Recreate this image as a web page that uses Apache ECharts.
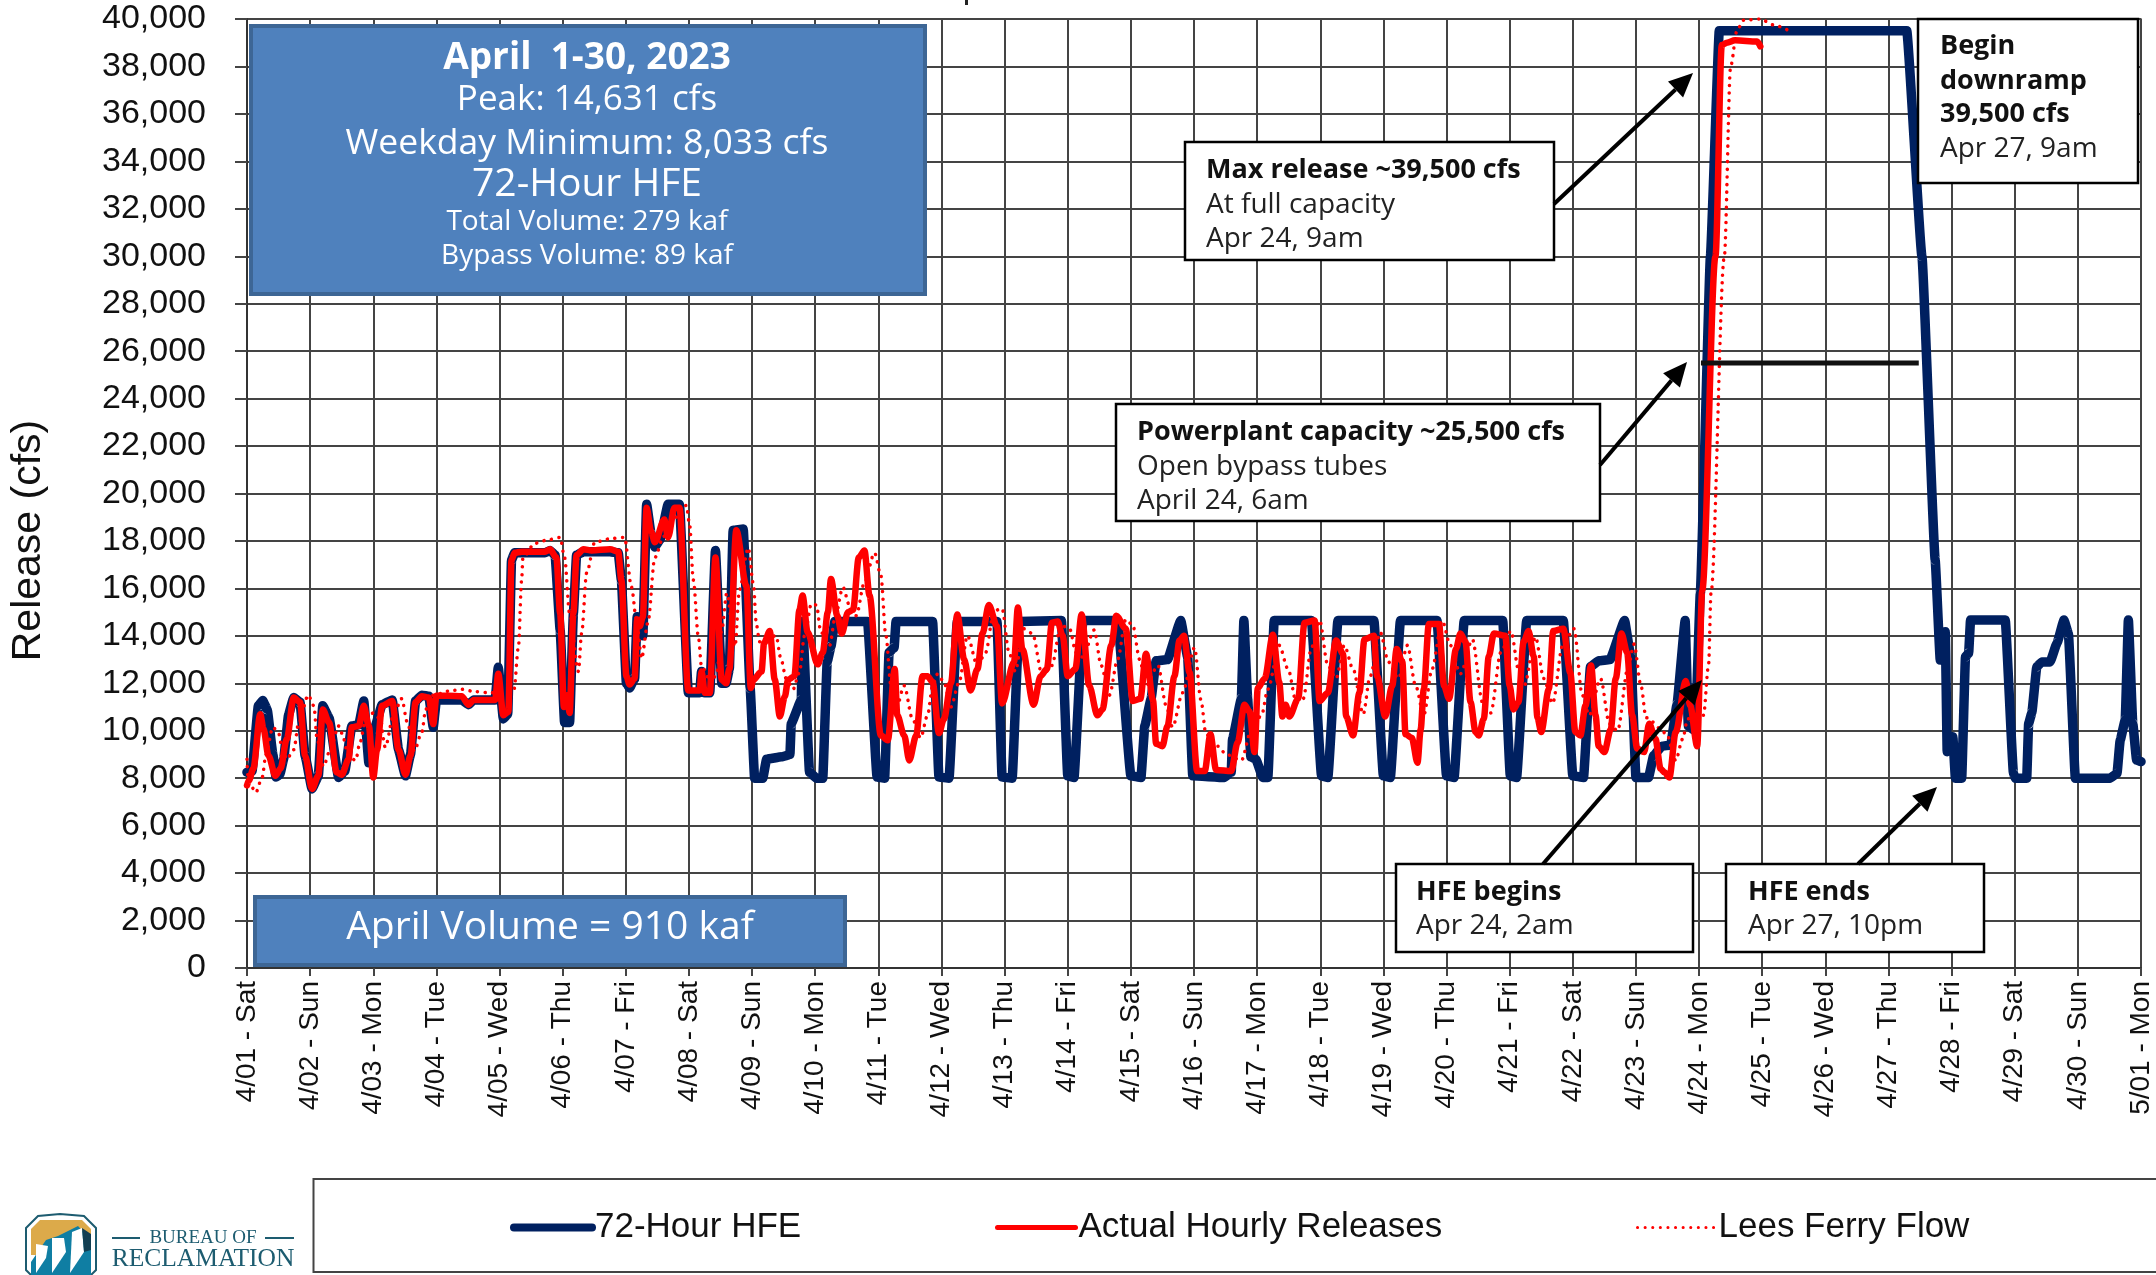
<!DOCTYPE html>
<html>
<head>
<meta charset="utf-8">
<title>April 2023 72-Hour HFE</title>
<style>
	html, body { margin: 0; padding: 0; background: #fff; }
	#chart { width: 2156px; height: 1275px; }
</style>
<script src="https://cdn.jsdelivr.net/npm/echarts@6/dist/echarts.min.js"></script>
</head>
<body>
<div id="chart"></div>
<script>
const dayLabels = [
	'4/01 - Sat', '4/02 - Sun', '4/03 - Mon', '4/04 - Tue', '4/05 - Wed', '4/06 - Thu',
	'4/07 - Fri', '4/08 - Sat', '4/09 - Sun', '4/10 - Mon', '4/11 - Tue', '4/12 - Wed',
	'4/13 - Thu', '4/14 - Fri', '4/15 - Sat', '4/16 - Sun', '4/17 - Mon', '4/18 - Tue',
	'4/19 - Wed', '4/20 - Thu', '4/21 - Fri', '4/22 - Sat', '4/23 - Sun', '4/24 - Mon',
	'4/25 - Tue', '4/26 - Wed', '4/27 - Thu', '4/28 - Fri', '4/29 - Sat', '4/30 - Sun', '5/01 - Mon'
];

// [ days since Apr 1, cfs ]
const hfeFlow = [
	[0,8250],[.08,8300],[.18,11050],[.25,11270],[.32,10900],[.41,9000],[.46,8050],[.52,8150],[.58,8800],[.66,10700],[.74,11400],[.84,11200],[.92,8950],
	[1.03,7550],[1.13,8100],[1.2,11050],[1.3,10550],[1.45,8030],[1.55,8300],[1.66,10200],[1.77,10250],[1.85,11250],[1.93,8650],
	[2.02,10100],[2.14,11100],[2.3,11300],[2.4,9200],[2.51,8100],[2.59,9000],[2.67,11250],[2.77,11500],[2.88,11450],[2.95,10150],
	[3,11300],[3.4,11300],[3.51,11100],[3.59,11300],[3.93,11300],[3.98,12680],[4.06,10500],[4.13,10700],[4.19,17200],[4.24,17500],
	[4.72,17500],[4.8,17600],[4.88,17400],[4.96,14250],[5.03,10350],[5.11,10350],[5.17,14950],[5.22,17400],[5.33,17550],[5.75,17550],[5.88,17500],
	[5.93,16350],[6.01,12000],[6.06,11800],[6.14,12200],[6.18,14800],[6.27,14000],[6.33,19550],[6.4,18300],[6.46,17750],[6.54,18050],
	[6.67,19550],[6.85,19550],[6.99,11600],[7.17,11600],[7.2,12500],[7.25,11600],[7.33,11600],[7.42,17600],[7.52,12000],[7.59,12000],
	[7.64,12600],[7.7,18450],[7.86,18500],[7.97,11800],[8.04,8000],[8.17,8000],[8.23,8800],[8.47,8900],[8.6,9000],[8.62,10300],[8.78,11300],[8.8,14600],
	[8.91,8250],[9.02,8000],[9.12,8000],[9.19,12900],[9.25,13550],[9.31,14600],[9.83,14600],[9.98,8050],[10.1,8000],[10.17,13300],[10.25,13500],[10.28,14600],
	[10.86,14600],[10.96,8050],[11.12,8000],[11.25,14600],[11.88,14600],[11.96,8050],[12.12,8000],[12.23,14600],[12.9,14650],
	[13,8100],[13.1,8030],[13.24,14650],[13.79,14650],[14,8100],[14.16,8030],[14.22,10200],[14.32,11350],[14.4,12950],[14.58,13000],[14.79,14650],[14.9,13100],
	[14.98,8100],[15.48,8030],[15.59,8250],[15.61,9650],[15.75,11350],[15.79,14650],[15.85,11350],[15.9,8900],[15.98,8800],[16.09,8030],[16.17,8030],[16.27,14650],
	[16.86,14650],[17.02,8100],[17.12,8030],[17.28,14650],[17.85,14650],[18,8100],[18.11,8030],[18.27,14650],[18.85,14650],[19,8100],[19.12,8030],[19.28,14650],
	[19.89,14650],[20.01,8100],[20.11,8030],[20.27,14650],[20.85,14650],[21,8100],[21.17,8030],[21.28,12700],[21.41,12950],[21.59,13000],[21.82,14650],[21.92,13100],
	[22,8030],[22.2,8030],[22.28,8950],[22.41,9350],[22.55,9400],[22.65,11100],[22.78,14650],[22.83,10200],[22.94,10000],[23.02,15800],[23.18,30000],[23.32,39500],
	[26.29,39500],[26.53,30000],[26.74,17200],[26.82,12980],[26.9,14170],[26.93,9120],[27.02,9750],[27.06,8000],[27.16,8000],[27.22,13120],[27.27,13270],[27.3,14670],
	[27.85,14670],[27.98,8200],[28.01,8000],[28.19,8000],[28.22,10300],[28.27,10750],[28.35,12700],[28.43,12900],[28.56,12900],[28.67,13700],[28.78,14670],[28.85,14100],
	[28.96,8000],[29.51,8000],[29.62,8200],[29.67,9600],[29.75,10450],[29.8,14670],[29.87,10300],[29.93,8770],[30,8700]
];

const actualFlow = [
	[0,7700],[.03,7900],[.1,8400],[.21,10700],[.26,10100],[.34,8950],[.45,8100],[.53,8400],[.63,9650],[.74,11400],[.84,11200],[.92,8950],
	[1.03,7550],[1.13,8100],[1.2,10900],[1.3,10350],[1.42,8250],[1.5,8150],[1.61,8800],[1.66,10150],[1.77,10200],[1.85,11050],[1.93,10200],
	[2,8030],[2.06,9200],[2.14,11050],[2.3,11250],[2.4,9200],[2.51,8150],[2.59,8950],[2.67,11200],[2.77,11450],[2.88,11400],[2.95,10280],
	[3,11480],[3.19,11480],[3.4,11450],[3.51,11100],[3.59,11300],[3.93,11300],[3.98,12400],[4.06,10650],[4.14,10800],[4.19,17200],[4.24,17500],[4.35,17550],
	[4.72,17550],[4.8,17650],[4.9,17300],[4.96,14950],[5.02,11000],[5.07,11500],[5.11,10750],[5.17,14950],[5.22,17400],[5.33,17650],[5.46,17600],[5.75,17650],[5.88,17550],
	[5.93,16350],[6.01,12300],[6.06,11950],[6.14,12200],[6.18,14700],[6.22,14400],[6.27,14800],[6.33,19400],[6.4,18400],[6.46,17950],[6.61,18900],[6.67,18150],[6.77,19400],[6.85,19400],
	[6.99,11700],[7.17,11700],[7.2,12500],[7.25,11600],[7.33,11600],[7.42,17300],[7.52,12150],[7.59,12000],[7.64,12600],[7.75,18450],[7.91,16100],
	[7.98,11800],[8.02,12150],[8.15,12500],[8.19,13700],[8.28,14200],[8.36,12150],[8.44,10600],[8.52,11450],[8.57,12150],[8.67,12300],[8.75,15100],[8.8,15700],[8.88,14150],
	[9.04,12800],[9.12,13300],[9.2,15000],[9.25,16400],[9.35,14850],[9.42,14100],[9.52,15000],[9.6,15100],[9.69,17300],[9.78,17600],[9.86,15700],
	[10.04,9800],[10.15,9600],[10.26,12600],[10.3,10650],[10.41,9800],[10.49,8750],[10.6,9800],[10.7,12300],[10.78,12300],[10.86,12050],[10.96,9900],
	[11.04,10500],[11.15,12000],[11.25,14900],[11.36,13000],[11.46,11700],[11.57,12600],[11.65,14100],[11.75,15300],[11.88,14400],[11.96,11150],
	[12.15,12900],[12.21,15200],[12.28,13450],[12.46,11100],[12.57,12300],[12.67,12600],[12.75,14550],[12.84,14600],[12.92,14000],
	[13,12300],[13.12,12600],[13.22,14900],[13.34,11900],[13.47,10650],[13.55,10900],[13.69,13600],[13.77,14850],[13.92,14300],
	[14.03,11250],[14.15,11350],[14.24,13250],[14.35,11300],[14.4,9450],[14.5,9350],[14.58,10200],[14.69,12300],[14.77,13800],[14.84,14000],[14.93,12450],
	[15.05,8300],[15.17,8300],[15.26,9850],[15.35,8350],[15.59,8300],[15.69,9500],[15.8,11100],[15.88,10800],[15.96,9100],
	[16.01,11800],[16.12,12200],[16.25,14050],[16.35,12050],[16.4,10600],[16.45,11100],[16.51,10600],[16.65,11350],[16.75,14550],[16.91,14650],[16.99,11250],
	[17.12,11600],[17.25,13800],[17.36,13250],[17.41,10600],[17.52,9800],[17.62,11600],[17.7,13850],[17.85,14000],[17.9,12300],
	[18.03,10600],[18.14,11900],[18.21,13450],[18.3,12900],[18.35,9850],[18.45,9700],[18.54,8650],[18.59,10050],[18.64,11750],[18.72,14500],[18.88,14500],[18.96,11900],
	[19.04,11350],[19.15,13450],[19.22,14100],[19.3,13750],[19.38,11200],[19.46,9950],[19.51,9800],[19.59,10500],[19.67,13150],[19.75,14100],[19.93,14000],
	[20,11900],[20.06,10900],[20.14,11200],[20.22,13750],[20.3,14200],[20.38,13150],[20.44,10550],[20.5,9950],[20.62,11750],[20.69,14200],[20.85,14300],[20.96,12450],
	[21.04,9950],[21.12,9800],[21.2,11050],[21.29,12750],[21.36,10650],[21.41,9350],[21.5,9100],[21.6,10050],[21.68,12200],[21.77,14100],[21.86,13300],[21.94,10650],
	[22.02,9250],[22.13,9100],[22.21,10300],[22.31,9650],[22.39,8400],[22.45,8250],[22.53,8030],[22.63,9950],[22.79,12100],[22.86,11050],[22.97,9350],
	[23.05,15900],[23.26,30000],[23.36,38900],[23.44,39000],[23.57,39100],[23.92,39050],[23.97,38850]
];

const leesFerryFlow = [
	[0,8800],[.02,7900],[.14,7400],[.24,8030],[.3,9000],[.41,10150],[.5,9900],[.55,9350],[.63,8800],[.74,9200],[.82,10350],[.97,11500],
	[1.06,11050],[1.11,9650],[1.21,8500],[1.32,9200],[1.45,10200],[1.5,9900],[1.61,8950],[1.72,8750],[1.79,9500],[1.87,10350],
	[2,10750],[2.11,10500],[2.19,9300],[2.32,10650],[2.45,11350],[2.54,10350],[2.65,9150],[2.77,9950],[2.83,10900],[2.95,11500],
	[3.25,11700],[3.4,11750],[3.61,11650],[3.85,11600],[4.14,11700],[4.23,11750],[4.3,13550],[4.35,16350],[4.37,17300],[4.56,17900],[4.77,18050],[4.96,18150],
	[5.03,17300],[5.11,14950],[5.25,12500],[5.3,14100],[5.38,16650],[5.51,17950],[5.77,18100],[5.98,18150],
	[6.09,16050],[6.17,14650],[6.25,13050],[6.35,14550],[6.46,17300],[6.6,18200],[6.8,19000],[6.96,19500],
	[7.01,18700],[7.07,16350],[7.15,13950],[7.2,12700],[7.36,12000],[7.44,12450],[7.52,14250],[7.6,15800],[7.73,13550],[7.8,15950],[7.94,17700],
	[8.02,16200],[8.07,14450],[8.12,13750],[8.38,14000],[8.46,13000],[8.54,12200],[8.65,11750],[8.75,12450],[8.83,14000],[8.94,15350],
	[9.02,15300],[9.09,14150],[9.23,13600],[9.31,14700],[9.44,16050],[9.54,15300],[9.65,14850],[9.78,16250],[9.94,17500],
	[10.04,16550],[10.12,14000],[10.2,11900],[10.28,10900],[10.41,11900],[10.54,10500],[10.67,9700],[10.78,10650],[10.86,11900],[10.94,12400],
	[11.04,12050],[11.15,11000],[11.28,12050],[11.41,14000],[11.57,12750],[11.7,13300],[11.83,15050],[11.96,15150],
	[12.07,13300],[12.17,12500],[12.3,14300],[12.44,14100],[12.6,12300],[12.75,12750],[12.89,14450],
	[13.03,14300],[13.13,13300],[13.24,13100],[13.42,14250],[13.53,12750],[13.66,11500],[13.79,13000],[13.92,14700],
	[14.03,14450],[14.14,13000],[14.24,11900],[14.43,12750],[14.56,11050],[14.66,10150],[14.82,11600],
	[15.01,13500],[15.11,11300],[15.19,9850],[15.38,9350],[15.51,9000],[15.75,8750],[15.91,10050],
	[16.07,10650],[16.17,11750],[16.35,13600],[16.49,12600],[16.62,11200],[16.73,11350],[16.86,13500],[16.99,14650],
	[17.12,12750],[17.25,12200],[17.38,13600],[17.52,12600],[17.68,10700],[17.79,12300],[17.95,14150],
	[18.08,12900],[18.24,12200],[18.38,13600],[18.51,11900],[18.64,10650],[18.77,12600],[18.93,14650],
	[19.06,13600],[19.22,12400],[19.41,13850],[19.57,11200],[19.7,10750],[19.86,13300],
	[20.02,14200],[20.15,12450],[20.23,11900],[20.41,13950],[20.54,12200],[20.68,11150],[20.84,13600],
	[21.02,14300],[21.15,11500],[21.26,10650],[21.44,12200],[21.58,10300],[21.71,10000],[21.87,12600],[21.97,13650],
	[22.08,11900],[22.16,10550],[22.48,9900],[22.63,8750],[22.74,9650],[22.82,10500],
	[23.07,10650],[23.15,12750],[23.19,15850],[23.4,29990],[23.5,38000],[23.6,39500],[23.7,39950],[23.97,40000],[24.18,39750],[24.39,39550]
];

const capacityFlow = [ [ 23.03, 25500 ], [ 26.48, 25500 ] ];

const summaryLines = [
	[ 'April  1-30, 2023', 'bold 37px "Open Sans"', 58 ],
	[ 'Peak: 14,631 cfs', '35px "Open Sans"', 100 ],
	[ 'Weekday Minimum: 8,033 cfs', '35.5px "Open Sans"', 144 ],
	[ '72-Hour HFE', '39px "Open Sans"', 185 ],
	[ 'Total Volume: 279 kaf', '28px "Open Sans"', 222 ],
	[ 'Bypass Volume: 89 kaf', '28px "Open Sans"', 256 ]
];

const noteBoxes = [
	{ box: [ 1185, 142, 369, 118 ], x: 1206, lines: [ [ 'Max release ~39,500 cfs', 170, true ], [ 'At full capacity', 205 ], [ 'Apr 24, 9am', 239 ] ] },
	{ box: [ 1116, 404, 484, 117 ], x: 1137, lines: [ [ 'Powerplant capacity ~25,500 cfs', 432, true ], [ 'Open bypass tubes', 467 ], [ 'April 24, 6am', 501 ] ] },
	{ box: [ 1396, 864, 297, 88 ], x: 1416, lines: [ [ 'HFE begins', 892, true ], [ 'Apr 24, 2am', 926 ] ] },
	{ box: [ 1726, 864, 258, 88 ], x: 1748, lines: [ [ 'HFE ends', 892, true ], [ 'Apr 27, 10pm', 926 ] ] },
	{ box: [ 1918, 19, 220, 164 ], x: 1940, lines: [ [ 'Begin', 46, true ], [ 'downramp', 81, true ], [ '39,500 cfs', 114, true ], [ 'Apr 27, 9am', 149 ] ] }
];

const noteArrows = [
	[ 1554, 204, 1693, 73 ],
	[ 1600, 465, 1687, 362 ],
	[ 1543, 864, 1702, 680 ],
	[ 1858, 864, 1937, 787 ]
];

function textEl( text, x, y, font, fill, align ) {
	return {
		type: 'text',
		z: 110,
		style: { text: text, x: x, y: y, font: font, fill: fill, align: align || 'left', verticalAlign: 'middle' }
	};
}

function rectEl( x, y, width, height, fill, stroke, lineWidth, z ) {
	return {
		type: 'rect',
		z: z || 100,
		shape: { x: x, y: y, width: width, height: height },
		style: { fill: fill, stroke: stroke, lineWidth: lineWidth }
	};
}

function arrowEls( a ) {
	const angle = Math.atan2( a[ 3 ] - a[ 1 ], a[ 2 ] - a[ 0 ] );
	const baseX = a[ 2 ] - 24 * Math.cos( angle );
	const baseY = a[ 3 ] - 24 * Math.sin( angle );
	const sideX = 11 * Math.sin( angle );
	const sideY = 11 * Math.cos( angle );
	return [
		{
			type: 'line',
			z: 105,
			shape: { x1: a[ 0 ], y1: a[ 1 ], x2: baseX, y2: baseY },
			style: { stroke: '#000', lineWidth: 4 }
		},
		{
			type: 'polygon',
			z: 105,
			shape: { points: [ [ a[ 2 ], a[ 3 ] ], [ baseX + sideX, baseY - sideY ], [ baseX - sideX, baseY + sideY ] ] },
			style: { fill: '#000' }
		}
	];
}

function polyEl( points, fill ) {
	return { type: 'polygon', z: 101, shape: { points: points }, style: { fill: fill } };
}

function logoEls() {
	const serif = '"Liberation Serif"';
	const teal = '#1d5c70';
	return [
		{
			type: 'polygon',
			z: 100,
			shape: { points: [ [ 26, 1228 ], [ 38, 1216 ], [ 60, 1214 ], [ 84, 1216 ], [ 96, 1228 ], [ 96, 1270 ], [ 88, 1278 ], [ 34, 1278 ], [ 26, 1270 ] ] },
			style: { fill: '#fff', stroke: teal, lineWidth: 2 }
		},
		polyEl( [ [ 31, 1229 ], [ 40, 1220 ], [ 82, 1220 ], [ 91, 1229 ], [ 91, 1255 ], [ 31, 1255 ] ], '#dcaa4a' ),
		polyEl( [ [ 31, 1275 ], [ 31, 1262 ], [ 46, 1240 ], [ 58, 1236 ], [ 78, 1226 ], [ 91, 1240 ], [ 91, 1275 ] ], '#0f7ea3' ),
		polyEl( [ [ 36, 1273 ], [ 36, 1244 ], [ 48, 1246 ], [ 46, 1258 ] ], '#fff' ),
		polyEl( [ [ 52, 1273 ], [ 52, 1238 ], [ 64, 1238 ], [ 66, 1252 ] ], '#fff' ),
		polyEl( [ [ 70, 1273 ], [ 72, 1232 ], [ 82, 1228 ], [ 84, 1252 ] ], '#fff' ),
		polyEl( [ [ 82, 1228 ], [ 91, 1234 ], [ 91, 1250 ], [ 84, 1252 ] ], '#123f52' ),
		rectEl( 112, 1237, 28, 2, teal, null, 0 ),
		rectEl( 265, 1237, 29, 2, teal, null, 0 ),
		textEl( 'BUREAU OF', 203, 1238, '19px ' + serif, teal, 'center' ),
		textEl( 'RECLAMATION', 203, 1259, '25.5px ' + serif, teal, 'center' )
	];
}

function buildGraphics() {
	const els = [];

	// clipped foot of the title letter above the plot
	els.push( rectEl( 965, 0, 3, 5, '#222', null, 0 ) );

	els.push( rectEl( 251, 26, 674, 268, '#4f81bd', '#3d6695', 4 ) );
	summaryLines.forEach( ( line ) => {
		els.push( textEl( line[ 0 ], 587, line[ 2 ], line[ 1 ], '#fff', 'center' ) );
	} );

	els.push( rectEl( 255, 897, 590, 68, '#4f81bd', '#3d6695', 4 ) );
	els.push( textEl( 'April Volume = 910 kaf', 550, 928, '39px "Open Sans"', '#fff', 'center' ) );

	noteBoxes.forEach( ( note ) => {
		els.push( rectEl( note.box[ 0 ], note.box[ 1 ], note.box[ 2 ], note.box[ 3 ], '#fff', '#000', 2.5 ) );
		note.lines.forEach( ( line ) => {
			const font = line[ 2 ] ? 'bold 27px "Open Sans"' : '28px "Open Sans"';
			els.push( textEl( line[ 0 ], note.x, line[ 1 ], font, line[ 2 ] ? '#111' : '#222' ) );
		} );
	} );

	noteArrows.forEach( ( a ) => {
		els.push( ...arrowEls( a ) );
	} );

	els.push( rectEl( 313.5, 1179, 1860, 93, '#fff', '#444', 2, 1 ) );

	return els.concat( logoEls() );
}

function singleLegend( name, left, lineWidth ) {
	return {
		data: [ name ],
		left: left,
		top: 1210,
		itemWidth: 78,
		itemHeight: 30,
		itemGap: 0,
		padding: 0,
		itemStyle: { color: 'transparent', borderWidth: 0 },
		lineStyle: { width: lineWidth },
		textStyle: { fontFamily: '"Liberation Sans"', fontSize: 35, color: '#111', padding: [ 0, 0, 0, -2 ] }
	};
}

const chart = echarts.init( document.getElementById( 'chart' ) );

chart.setOption( {
	animation: false,
	backgroundColor: '#fff',
	grid: { left: 245.5, top: 19, width: 1895.5, height: 949, show: true, borderColor: '#999', borderWidth: 2 },
	legend: [
		singleLegend( '72-Hour HFE', 510, 8 ),
		singleLegend( 'Actual Hourly Releases', 995, 5 ),
		singleLegend( 'Lees Ferry Flow', 1636, 3 )
	],
	xAxis: {
		type: 'value',
		min: 0,
		max: 30,
		interval: 1,
		axisLine: { onZero: false, lineStyle: { color: '#333', width: 2 } },
		axisTick: { length: 8, lineStyle: { color: '#444', width: 2 } },
		splitLine: { lineStyle: { color: '#444', width: 2 } },
		axisLabel: {
			rotate: 90,
			margin: 13,
			color: '#111',
			fontFamily: '"Liberation Sans"',
			fontSize: 28,
			formatter: ( value ) => dayLabels[ value ]
		}
	},
	yAxis: {
		type: 'value',
		min: 0,
		max: 40000,
		interval: 2000,
		name: 'Release (cfs)',
		nameLocation: 'middle',
		nameGap: 198,
		nameTextStyle: { color: '#111', fontFamily: '"Liberation Sans"', fontSize: 41, padding: [ 0, 94, 0, 0 ] },
		axisLine: { show: true, onZero: false, lineStyle: { color: '#333', width: 2 } },
		axisTick: { show: true, length: 12, lineStyle: { color: '#444', width: 2 } },
		splitLine: { lineStyle: { color: '#444', width: 2 } },
		axisLabel: {
			margin: 41,
			color: '#111',
			fontFamily: '"Liberation Sans"',
			fontSize: 34,
			formatter: ( value ) => value.toLocaleString( 'en-US' )
		}
	},
	series: [
		{
			name: '72-Hour HFE',
			type: 'line',
			data: hfeFlow,
			symbol: 'none',
			smooth: 0.1,
			smoothMonotone: 'x',
			z: 3,
			lineStyle: { color: '#002060', width: 9.5, join: 'round', cap: 'round' },
			itemStyle: { color: '#002060' }
		},
		{
			name: 'Lees Ferry Flow',
			type: 'line',
			data: leesFerryFlow,
			symbol: 'none',
			smooth: 0.3,
			smoothMonotone: 'x',
			z: 4,
			lineStyle: { color: '#f00', width: 3.5, type: [ 0.1, 7.5 ], cap: 'round' },
			itemStyle: { color: '#f00' }
		},
		{
			name: 'Actual Hourly Releases',
			type: 'line',
			data: actualFlow,
			symbol: 'none',
			smooth: 0.3,
			smoothMonotone: 'x',
			z: 5,
			lineStyle: { color: '#f00', width: 6.5, join: 'round', cap: 'round' },
			itemStyle: { color: '#f00' }
		},
		{
			name: 'Powerplant capacity',
			type: 'line',
			data: capacityFlow,
			symbol: 'none',
			z: 6,
			lineStyle: { color: '#111', width: 5 }
		}
	],
	graphic: buildGraphics()
} );
</script>
</body>
</html>
